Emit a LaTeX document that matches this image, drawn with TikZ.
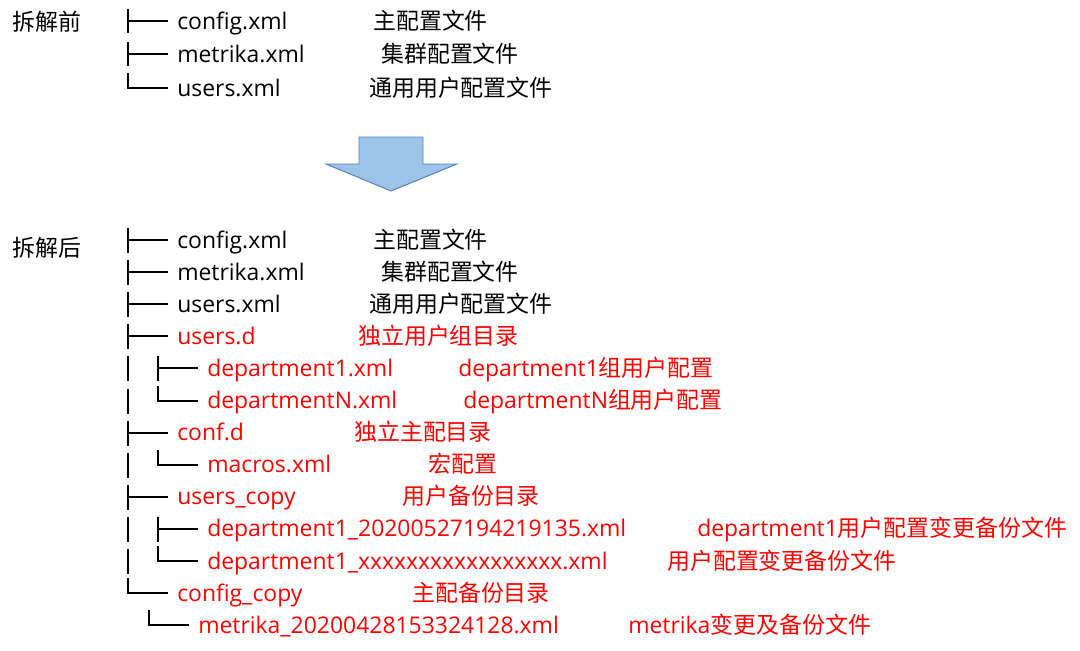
\documentclass[tikz,border=0pt]{standalone}
\usepackage{fontspec}
\setmainfont{Open Sans}
\newfontfamily\cjk{Noto Sans CJK SC}
\begin{document}
\begin{tikzpicture}[x=0.025cm,y=-0.025cm]
		% Styles
		\tikzstyle{branche}=[line width=0.05cm,black]
		\tikzstyle{texte}=[inner sep=0pt,anchor=base west,font=\fontsize{16.3}{20}\selectfont]
		\tikzstyle{fichier}=[texte,black]
		\tikzstyle{nouveau}=[texte,red]
		\tikzstyle{commentaire}=[texte,black]
		\tikzstyle{fleche}=[fill={rgb,255:red,157;green,195;blue,230},draw={rgb,255:red,84;green,130;blue,190},line width=0.7pt]
		% Dimensions
		\def\HautAvant{21}
		\def\LigneAvant{33.4}
		\def\HautApres{240}
		\def\LigneApres{32.1}
		\def\ColonneA{128}
		\def\ColonneB{158}
		\def\Trait{40}
		\def\Base{8}
		\useasboundingbox (0,0) rectangle (1080,651);
		% Avant
		\node[commentaire] (avant) at (12,30.4) {\cjk 拆解前};
		\foreach \k/\nom/\desc/\xd in {0/config.xml/主配置文件/373,1/metrika.xml/集群配置文件/381}{
			\pgfmathsetmacro{\y}{round(\HautAvant+\k*\LigneAvant)}
			\draw[branche] (\ColonneA,\y-12) -- (\ColonneA,\y+12);
			\draw[branche] (\ColonneA,\y) -- ({\ColonneA+\Trait},\y);
			\node[fichier] (av\k) at (177,\y+\Base) {\nom};
			\node[commentaire] (avd\k) at (\xd,\y+\Base) {\cjk \desc};
		}
		\draw[branche] (\ColonneA,{round(\HautAvant+2*\LigneAvant)-15}) |- ({\ColonneA+\Trait},{round(\HautAvant+2*\LigneAvant)});
		\node[fichier] (av2) at (177,{round(\HautAvant+2*\LigneAvant)+\Base}) {users.xml};
		\node[commentaire] (avd2) at (369,{round(\HautAvant+2*\LigneAvant)+\Base}) {\cjk 通用用户配置文件};
		% Fleche
		\draw[fleche] (359,137) -- (423,137) -- (423,164) -- (457,164) -- (391,191) -- (326,164) -- (359,164) -- cycle;
		% Apres
		\node[commentaire] (apres) at (12,256) {\cjk 拆解后};
		% Traits verticaux (├ et │)
		\foreach \k in {0,...,10}{
			\pgfmathsetmacro{\y}{round(\HautApres+\k*\LigneApres)}
			\draw[branche] (\ColonneA,\y-12) -- (\ColonneA,\y+13);
		}
		\foreach \k in {0,1,2,3,6,8}{
			\pgfmathsetmacro{\y}{round(\HautApres+\k*\LigneApres)}
			\draw[branche] (\ColonneA,\y) -- ({\ColonneA+\Trait},\y);
		}
		\pgfmathsetmacro{\y}{round(\HautApres+11*\LigneApres)}
		\draw[branche] (\ColonneA,\y-15) |- ({\ColonneA+\Trait},\y);
		\foreach \k in {4,9}{
			\pgfmathsetmacro{\y}{round(\HautApres+\k*\LigneApres)}
			\draw[branche] (\ColonneB,\y-12) -- (\ColonneB,\y+13);
			\draw[branche] (\ColonneB,\y) -- ({\ColonneB+\Trait},\y);
		}
		\foreach \k in {5,7,10}{
			\pgfmathsetmacro{\y}{round(\HautApres+\k*\LigneApres)}
			\draw[branche] (\ColonneB,\y-15) |- ({\ColonneB+\Trait},\y);
		}
		\pgfmathsetmacro{\y}{round(\HautApres+12*\LigneApres)}
		\draw[branche] (149,\y-15) |- (189,\y);
		% Fichiers
		\node[fichier] (ap0) at (177,{\HautApres+0*\LigneApres+\Base}) {config.xml};
		\node[fichier] (ap1) at (177,{\HautApres+1*\LigneApres+\Base}) {metrika.xml};
		\node[fichier] (ap2) at (177,{\HautApres+2*\LigneApres+\Base}) {users.xml};
		\node[nouveau] (ap3) at (177,{\HautApres+3*\LigneApres+\Base}) {users.d};
		\node[nouveau] (ap4) at (207,{\HautApres+4*\LigneApres+\Base}) {department1.xml};
		\node[nouveau] (ap5) at (207,{\HautApres+5*\LigneApres+\Base}) {departmentN.xml};
		\node[nouveau] (ap6) at (177,{\HautApres+6*\LigneApres+\Base}) {conf.d};
		\node[nouveau] (ap7) at (207,{\HautApres+7*\LigneApres+\Base}) {macros.xml};
		\node[nouveau] (ap8) at (177,{\HautApres+8*\LigneApres+\Base}) {users\_copy};
		\node[nouveau] (ap9) at (207,{\HautApres+9*\LigneApres+\Base}) {department1\_20200527194219135.xml};
		\node[nouveau] (ap10) at (207,{\HautApres+10*\LigneApres+\Base}) {department1\_xxxxxxxxxxxxxxxxx.xml};
		\node[nouveau] (ap11) at (177,{\HautApres+11*\LigneApres+\Base}) {config\_copy};
		\node[nouveau] (ap12) at (198,{\HautApres+12*\LigneApres+\Base}) {metrika\_20200428153324128.xml};
		% Commentaires
		\node[commentaire] (apd0) at (373,{\HautApres+0*\LigneApres+\Base}) {\cjk 主配置文件};
		\node[commentaire] (apd1) at (381,{\HautApres+1*\LigneApres+\Base}) {\cjk 集群配置文件};
		\node[commentaire] (apd2) at (369,{\HautApres+2*\LigneApres+\Base}) {\cjk 通用用户配置文件};
		\node[nouveau] (apd3) at (358,{\HautApres+3*\LigneApres+\Base}) {\cjk 独立用户组目录};
		\node[nouveau] (apd4) at (458,{\HautApres+4*\LigneApres+\Base}) {department1{\cjk 组用户配置}};
		\node[nouveau] (apd5) at (463,{\HautApres+5*\LigneApres+\Base}) {departmentN{\cjk 组用户配置}};
		\node[nouveau] (apd6) at (354,{\HautApres+6*\LigneApres+\Base}) {\cjk 独立主配目录};
		\node[nouveau] (apd7) at (428,{\HautApres+7*\LigneApres+\Base}) {\cjk 宏配置};
		\node[nouveau] (apd8) at (402,{\HautApres+8*\LigneApres+\Base}) {\cjk 用户备份目录};
		\node[nouveau] (apd9) at (697,{\HautApres+9*\LigneApres+\Base}) {department1{\cjk 用户配置变更备份文件}};
		\node[nouveau] (apd10) at (667,{\HautApres+10*\LigneApres+\Base}) {\cjk 用户配置变更备份文件};
		\node[nouveau] (apd11) at (412,{\HautApres+11*\LigneApres+\Base}) {\cjk 主配备份目录};
		\node[nouveau] (apd12) at (628,{\HautApres+12*\LigneApres+\Base}) {metrika{\cjk 变更及备份文件}};
	\end{tikzpicture}
\end{document}
